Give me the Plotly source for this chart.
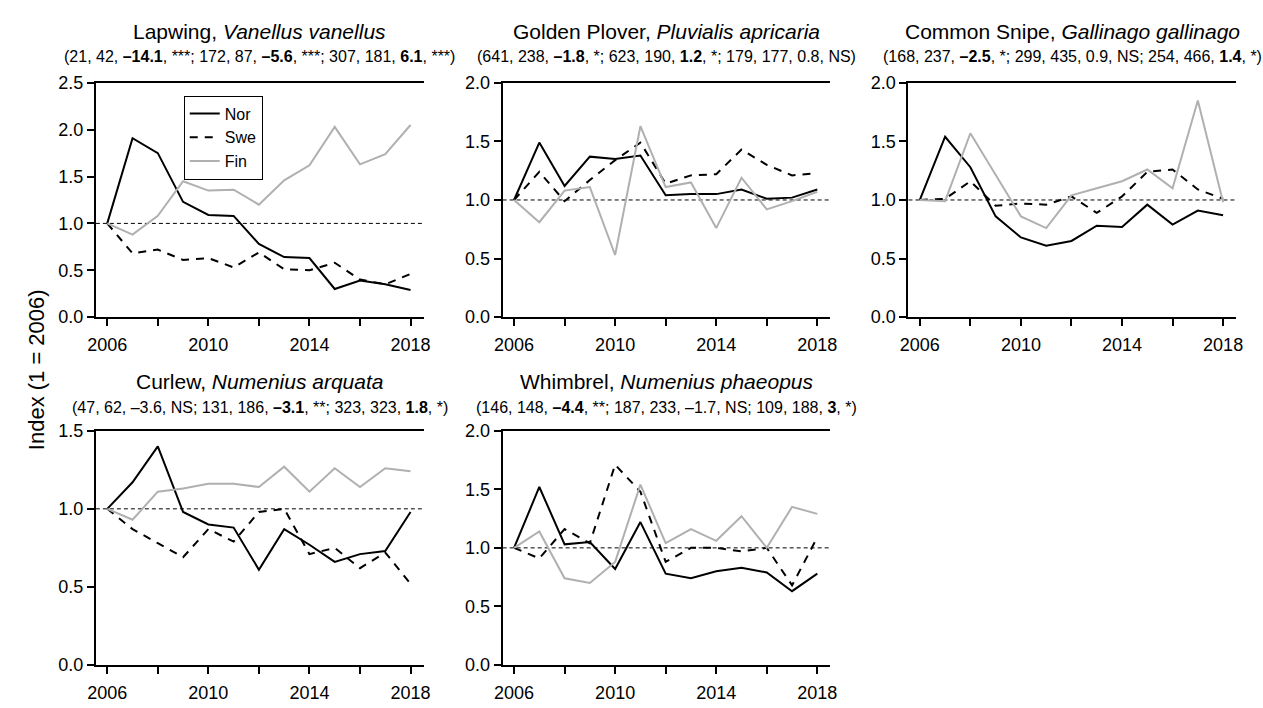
import plotly.graph_objects as go

W, H = 1263, 708
FONT = "Liberation Sans, Arial, Helvetica, sans-serif"

years = list(range(2006, 2019))

# Annual indices (1 = 2006) per country
lapwing_nor = [1.00, 1.91, 1.75, 1.23, 1.09, 1.08, 0.78, 0.64, 0.63, 0.30, 0.39, 0.35, 0.29]
lapwing_swe = [1.00, 0.68, 0.72, 0.61, 0.63, 0.53, 0.69, 0.51, 0.50, 0.58, 0.40, 0.35, 0.46]
lapwing_fin = [1.00, 0.88, 1.08, 1.45, 1.35, 1.36, 1.20, 1.46, 1.62, 2.03, 1.63, 1.74, 2.05]

plover_nor = [1.00, 1.49, 1.12, 1.37, 1.35, 1.38, 1.04, 1.05, 1.05, 1.09, 1.01, 1.02, 1.09]
plover_swe = [1.00, 1.24, 0.99, 1.17, 1.34, 1.49, 1.14, 1.21, 1.22, 1.43, 1.30, 1.21, 1.23]
plover_fin = [1.00, 0.81, 1.08, 1.11, 0.53, 1.63, 1.11, 1.15, 0.76, 1.19, 0.92, 0.99, 1.07]

snipe_nor = [1.00, 1.54, 1.28, 0.86, 0.68, 0.61, 0.65, 0.78, 0.77, 0.96, 0.79, 0.91, 0.87]
snipe_swe = [1.00, 1.01, 1.16, 0.95, 0.97, 0.96, 1.03, 0.89, 1.03, 1.24, 1.26, 1.09, 1.01]
snipe_fin = [1.00, 0.99, 1.57, 1.22, 0.86, 0.76, 1.04, 1.10, 1.16, 1.26, 1.10, 1.85, 0.98]

curlew_nor = [1.00, 1.17, 1.40, 0.98, 0.90, 0.88, 0.61, 0.87, 0.77, 0.66, 0.71, 0.73, 0.98]
curlew_swe = [1.00, 0.87, 0.78, 0.69, 0.87, 0.79, 0.98, 1.00, 0.71, 0.75, 0.62, 0.72, 0.52]
curlew_fin = [1.00, 0.93, 1.11, 1.13, 1.16, 1.16, 1.14, 1.27, 1.11, 1.26, 1.14, 1.26, 1.24]

whimbrel_nor = [1.00, 1.52, 1.03, 1.05, 0.82, 1.22, 0.78, 0.74, 0.80, 0.83, 0.79, 0.63, 0.78]
whimbrel_swe = [1.00, 0.91, 1.16, 1.04, 1.71, 1.48, 0.88, 1.00, 1.00, 0.97, 1.00, 0.68, 1.09]
whimbrel_fin = [1.00, 1.14, 0.74, 0.70, 0.88, 1.54, 1.04, 1.16, 1.06, 1.27, 1.00, 1.35, 1.29]

titles = [
    "Lapwing, <i>Vanellus vanellus</i>",
    "Golden Plover, <i>Pluvialis apricaria</i>",
    "Common Snipe, <i>Gallinago gallinago</i>",
    "Curlew, <i>Numenius arquata</i>",
    "Whimbrel, <i>Numenius phaeopus</i>",
]
subtitles = [
    "(21, 42, <b>\u201314.1</b>, ***; 172, 87, <b>\u20135.6</b>, ***; 307, 181, <b>6.1</b>, ***)",
    "(641, 238, <b>\u20131.8</b>, *; 623, 190, <b>1.2</b>, *; 179, 177, 0.8, NS)",
    "(168, 237, <b>\u20132.5</b>, *; 299, 435, 0.9, NS; 254, 466, <b>1.4</b>, *)",
    "(47, 62, \u20133.6, NS; 131, 186, <b>\u20133.1</b>, **; 323, 323, <b>1.8</b>, *)",
    "(146, 148, <b>\u20134.4</b>, **; 187, 233, \u20131.7, NS; 109, 188, <b>3</b>, *)",
]
y_max = [2.5, 2.0, 2.0, 1.5, 2.0]
series = [
    (lapwing_nor, lapwing_swe, lapwing_fin),
    (plover_nor, plover_swe, plover_fin),
    (snipe_nor, snipe_swe, snipe_fin),
    (curlew_nor, curlew_swe, curlew_fin),
    (whimbrel_nor, whimbrel_swe, whimbrel_fin),
]
country_names = ["Nor", "Swe", "Fin"]
year_ticks = [2006, 2008, 2010, 2012, 2014, 2016, 2018]
year_labels = ["2006", "", "2010", "", "2014", "", "2018"]

# Panel placement in pixels: (left, right, top, bottom)
cols = [(88, 420), (500, 832), (911, 1243)]
rows = [(75, 316), (433, 674)]
panel_px = [
    (cols[0], rows[0]), (cols[1], rows[0]), (cols[2], rows[0]),
    (cols[0], rows[1]), (cols[1], rows[1]),
]
title_y = [(22, 48), (382, 409)]

styles = [
    dict(color="black", width=2, dash="solid"),
    dict(color="black", width=2, dash="8px,7px"),
    dict(color="#b0b0b0", width=2, dash="solid"),
]

fig = go.Figure()
layout = dict(
    width=W, height=H,
    margin=dict(l=0, r=0, t=0, b=0),
    paper_bgcolor="white", plot_bgcolor="white",
    font=dict(family=FONT, color="black", size=18),
    showlegend=True,
    legend=dict(
        x=177 / W, y=1 - 88 / H, xanchor="left", yanchor="top",
        bgcolor="white", bordercolor="black", borderwidth=1,
        font=dict(size=16, family=FONT), itemwidth=30,
        tracegroupgap=0,
    ),
)
annotations = []
shapes = []

for i, ((xl, xr), (yt, yb)) in enumerate(panel_px):
    n = "" if i == 0 else str(i + 1)
    xa, ya = "x" + n, "y" + n
    for k, (vals, name) in enumerate(zip(series[i], country_names)):
        fig.add_trace(go.Scatter(
            x=years, y=vals, mode="lines", name=name,
            line=styles[k], xaxis=xa, yaxis=ya,
            showlegend=(i == 0), legendgroup=name,
        ))
    ymax = y_max[i]
    layout["xaxis" + n] = dict(
        domain=[xl / W, xr / W], anchor=ya,
        range=[2005.55, 2018.52],
        tickvals=year_ticks, ticktext=year_labels,
        ticks="outside", ticklen=7, tickwidth=2, tickcolor="black",
        showline=True, linewidth=2, linecolor="black", mirror=True,
        showgrid=False, zeroline=False,
        tickfont=dict(size=18, family=FONT), ticklabelstandoff=3,
    )
    ytv = [v / 2 for v in range(int(ymax * 2) + 1)]
    layout["yaxis" + n] = dict(
        domain=[1 - yb / H, 1 - yt / H], anchor=xa,
        range=[0, ymax],
        tickvals=ytv, ticktext=[f"{v:.1f}" for v in ytv],
        ticks="outside", ticklen=7, tickwidth=2, tickcolor="black",
        showline=True, linewidth=2, linecolor="black", mirror=False,
        showgrid=False, zeroline=False,
        tickfont=dict(size=18, family=FONT),
    )
    # reference line at index 1
    shapes.append(dict(
        type="line", xref=xa + " domain", yref=ya, x0=0, x1=1, y0=1, y1=1,
        line=dict(color="black", width=1, dash="4px,3px"), layer="below",
    ))
    cx = (xl + xr) / 2 / W
    ty, sy = title_y[0] if yt < 200 else title_y[1]
    annotations.append(dict(
        text=titles[i], x=cx, y=1 - ty / H, xref="paper", yref="paper",
        xanchor="center", yanchor="middle", showarrow=False,
        font=dict(size=21, family=FONT),
    ))
    annotations.append(dict(
        text=subtitles[i], x=cx, y=1 - sy / H, xref="paper", yref="paper",
        xanchor="center", yanchor="middle", showarrow=False,
        font=dict(size=16, family=FONT),
    ))

annotations.append(dict(
    text="Index (1 = 2006)", x=28 / W, y=1 - 370 / H, xref="paper", yref="paper",
    xanchor="center", yanchor="middle", textangle=-90, showarrow=False,
    font=dict(size=22, family=FONT),
))

layout["annotations"] = annotations
layout["shapes"] = shapes
fig.update_layout(**layout)
fig.write_html("out.html")
